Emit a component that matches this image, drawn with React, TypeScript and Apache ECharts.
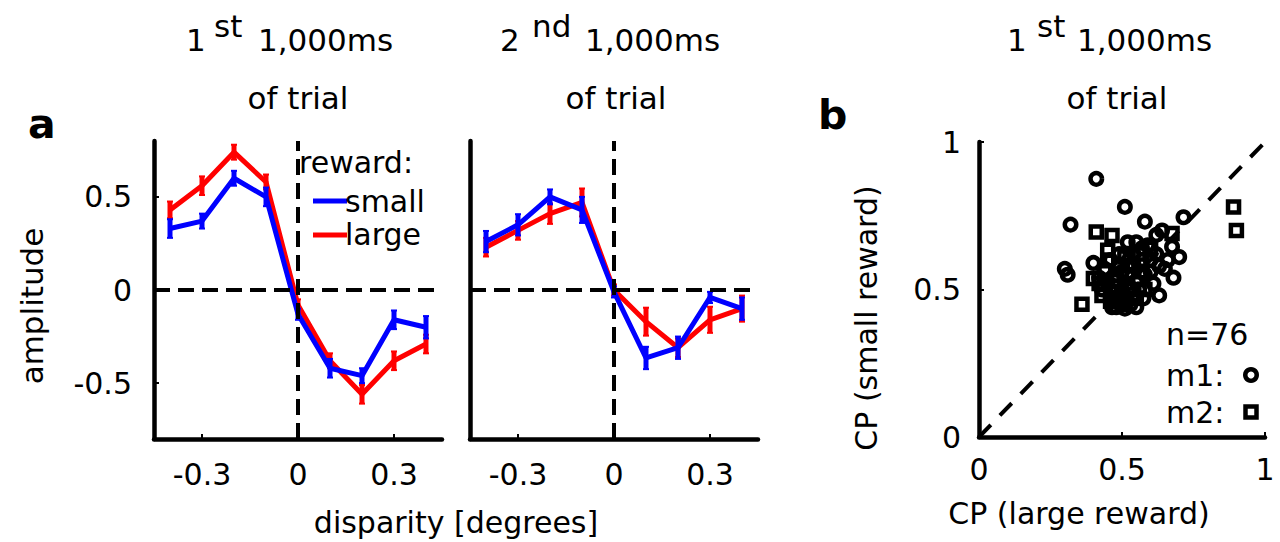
import React, { useEffect, useRef } from "react";
import * as echarts from "echarts";

// ---------------- data ----------------
const disparity = [-0.4, -0.3, -0.2, -0.1, 0, 0.1, 0.2, 0.3, 0.4];

// panel a, 1st 1,000 ms
const first_small = [0.33, 0.37, 0.6, 0.5, -0.13, -0.42, -0.46, -0.16, -0.2];
const first_small_err = [0.05, 0.04, 0.04, 0.05, 0.03, 0.05, 0.04, 0.05, 0.06];
const first_large = [0.43, 0.56, 0.74, 0.58, -0.08, -0.38, -0.56, -0.38, -0.29];
const first_large_err = [0.045, 0.05, 0.04, 0.04, 0.03, 0.04, 0.05, 0.05, 0.05];

// panel a, 2nd 1,000 ms
const second_small = [0.26, 0.35, 0.5, 0.43, -0.01, -0.365, -0.31, -0.04, -0.1];
const second_small_err = [0.057, 0.057, 0.04, 0.07, 0.03, 0.06, 0.06, 0.03, 0.06];
const second_large = [0.23, 0.32, 0.41, 0.47, 0.0, -0.17, -0.31, -0.16, -0.1];
const second_large_err = [0.05, 0.05, 0.055, 0.075, 0.03, 0.075, 0.05, 0.07, 0.07];

// panel b: CP (large reward), CP (small reward)
const m1_cp: number[][] = [
  [0.41, 0.875], [0.51, 0.78], [0.32, 0.72], [0.715, 0.745], [0.58, 0.73],
  [0.30, 0.57], [0.31, 0.55], [0.40, 0.59], [0.70, 0.61], [0.68, 0.54],
  [0.63, 0.48], [0.675, 0.645], [0.465, 0.44], [0.51, 0.435], [0.575, 0.47],
  [0.52, 0.66], [0.55, 0.66], [0.62, 0.685], [0.64, 0.70], [0.65, 0.57],
  [0.45, 0.52], [0.48, 0.55], [0.50, 0.50], [0.52, 0.58], [0.55, 0.53],
  [0.57, 0.60], [0.60, 0.56], [0.62, 0.62], [0.47, 0.47], [0.53, 0.45],
  [0.56, 0.50], [0.49, 0.62], [0.44, 0.57], [0.59, 0.65], [0.61, 0.52],
  [0.43, 0.50], [0.54, 0.62], [0.58, 0.55], [0.50, 0.56], [0.46, 0.60],
  [0.63, 0.58], [0.48, 0.44], [0.55, 0.44], [0.60, 0.60], [0.66, 0.60],
  [0.52, 0.52], [0.57, 0.64], [0.42, 0.54],
];
const m2_cp: number[][] = [
  [0.89, 0.78], [0.90, 0.70], [0.41, 0.695], [0.465, 0.683], [0.675, 0.69],
  [0.45, 0.633], [0.45, 0.60], [0.40, 0.537], [0.36, 0.45], [0.43, 0.48],
  [0.46, 0.49], [0.50, 0.48], [0.55, 0.47], [0.42, 0.52], [0.47, 0.53],
  [0.52, 0.55], [0.49, 0.58], [0.58, 0.50], [0.54, 0.58], [0.50, 0.45],
  [0.44, 0.56], [0.53, 0.50], [0.57, 0.56], [0.60, 0.64], [0.48, 0.51],
  [0.56, 0.62], [0.51, 0.61], [0.46, 0.46],
];

// tick labels
const dispTickValues = [-0.3, 0, 0.3];
const dispTickLabels = ["-0.3", "0", "0.3"];
const ampTickValues = [-0.5, 0, 0.5];
const ampTickLabels = ["-0.5", "0", "0.5"];
const cpTickValues = [0, 0.5, 1];
const cpTickLabels = ["0", "0.5", "1"];

// ---------------- style ----------------
const FONT = "DejaVu Sans";
const BLUE = "#0000ff";
const RED = "#ff0000";
const BLACK = "#000000";

const fmt = (vals: number[], labels: string[]) => (v: number) => {
  const i = vals.findIndex((t) => Math.abs(t - v) < 1e-9);
  return i >= 0 ? labels[i] : "";
};

const labelStyle = { fontFamily: FONT, fontSize: 30, color: BLACK };

function makeXAxis(gridIndex: number, min: number, max: number, vals: number[], labels: string[], margin: number) {
  return {
    type: "value",
    gridIndex,
    min,
    max,
    axisLine: { show: true, onZero: false, lineStyle: { color: BLACK, width: 4.5 } },
    axisTick: { show: true, inside: true, length: 5, customValues: vals, lineStyle: { color: BLACK, width: 2 } },
    axisLabel: { show: true, customValues: vals, formatter: fmt(vals, labels), margin, ...labelStyle },
    splitLine: { show: false },
  };
}

function makeYAxis(gridIndex: number, min: number, max: number, vals: number[], labels: string[], showLabels: boolean, margin: number) {
  return {
    type: "value",
    gridIndex,
    min,
    max,
    axisLine: { show: true, onZero: false, lineStyle: { color: BLACK, width: 4.5 } },
    axisTick: { show: showLabels, inside: true, length: 5, customValues: vals, lineStyle: { color: BLACK, width: 2 } },
    axisLabel: { show: showLabels, customValues: vals, formatter: fmt(vals, labels), margin, ...labelStyle },
    splitLine: { show: false },
  };
}

function lineSeries(idx: number, xs: number[], ys: number[], color: string, z: number) {
  return {
    type: "line",
    xAxisIndex: idx,
    yAxisIndex: idx,
    data: xs.map((x, i) => [x, ys[i]]),
    symbol: "none",
    lineStyle: { color, width: 5 },
    z,
  };
}

function errSeries(idx: number, xs: number[], ys: number[], es: number[], color: string, z: number) {
  return {
    type: "custom",
    xAxisIndex: idx,
    yAxisIndex: idx,
    data: xs.map((x, i) => [x, ys[i] - es[i], ys[i] + es[i]]),
    encode: { x: 0, y: [1, 2] },
    z,
    renderItem: (_p: any, api: any) => {
      const x = api.value(0);
      const a = api.coord([x, api.value(1)]);
      const b = api.coord([x, api.value(2)]);
      return {
        type: "group",
        children: [
          { type: "line", shape: { x1: a[0], y1: a[1], x2: b[0], y2: b[1] }, style: { stroke: color, lineWidth: 5 } },
          { type: "line", shape: { x1: a[0] - 3, y1: a[1], x2: a[0] + 3, y2: a[1] }, style: { stroke: color, lineWidth: 2 } },
          { type: "line", shape: { x1: b[0] - 3, y1: b[1], x2: b[0] + 3, y2: b[1] }, style: { stroke: color, lineWidth: 2 } },
        ],
      };
    },
  };
}

function dashed(idx: number, pts: number[][], dash: number[], z: number) {
  return {
    type: "line",
    xAxisIndex: idx,
    yAxisIndex: idx,
    data: pts,
    symbol: "none",
    lineStyle: { color: BLACK, width: 4, type: dash },
    z,
  };
}

function txt(text: string, x: number, y: number, size: number, align: string, opts: any = {}) {
  return {
    type: "text",
    x,
    y,
    rotation: opts.rotation || 0,
    style: {
      text,
      x: 0,
      y: 0,
      fill: BLACK,
      font: `${opts.bold ? "bold " : ""}${size}px "${FONT}"`,
      fontFamily: FONT,
      fontSize: size,
      fontWeight: opts.bold ? "bold" : "normal",
      align,
      textAlign: align,
      verticalAlign: "middle",
      textVerticalAlign: "middle",
    },
  };
}

function title(lead: string, sup: string, leadX: number, supX: number, mainX: number, center: number) {
  return [
    txt(lead, leadX, 40, 31, "left"),
    txt(sup, supX, 26, 31, "left"),
    txt("1,000ms", mainX, 40, 31, "left"),
    txt("of trial", center, 97.5, 31, "center"),
  ];
}

const markerStyle = { color: "rgba(0,0,0,0)", borderColor: BLACK, borderWidth: 4.5, opacity: 1 };

export default function App() {
  const ref = useRef<HTMLDivElement>(null);

  useEffect(() => {
    if (!ref.current) return;
    const chart = echarts.init(ref.current, null, { renderer: "svg" });

    const option: any = {
      animation: false,
      backgroundColor: "#ffffff",
      grid: [
        { left: 154, top: 141, width: 288, height: 298 },
        { left: 470, top: 141, width: 288, height: 298 },
        { left: 979, top: 142, width: 286, height: 295 },
      ],
      xAxis: [
        makeXAxis(0, -0.45, 0.45, dispTickValues, dispTickLabels, 20),
        makeXAxis(1, -0.45, 0.45, dispTickValues, dispTickLabels, 20),
        makeXAxis(2, 0, 1, cpTickValues, cpTickLabels, 17),
      ],
      yAxis: [
        makeYAxis(0, -0.8, 0.8, ampTickValues, ampTickLabels, true, 22),
        makeYAxis(1, -0.8, 0.8, ampTickValues, ampTickLabels, false, 22),
        makeYAxis(2, 0, 1, cpTickValues, cpTickLabels, true, 18),
      ],
      series: [
        // panel a left
        errSeries(0, disparity, first_large, first_large_err, RED, 2),
        lineSeries(0, disparity, first_large, RED, 2),
        errSeries(0, disparity, first_small, first_small_err, BLUE, 3),
        lineSeries(0, disparity, first_small, BLUE, 3),
        dashed(0, [[-0.45, 0], [0.45, 0]], [16, 8], 4),
        dashed(0, [[0, -0.8], [0, 0.8]], [16, 8], 4),
        // panel a right
        errSeries(1, disparity, second_large, second_large_err, RED, 2),
        lineSeries(1, disparity, second_large, RED, 2),
        errSeries(1, disparity, second_small, second_small_err, BLUE, 3),
        lineSeries(1, disparity, second_small, BLUE, 3),
        dashed(1, [[-0.45, 0], [0.45, 0]], [16, 8], 4),
        dashed(1, [[0, -0.8], [0, 0.8]], [16, 8], 4),
        // panel b
        dashed(2, [[0, 0], [1, 1]], [17, 13], 2),
        {
          type: "scatter",
          xAxisIndex: 2,
          yAxisIndex: 2,
          data: m1_cp,
          symbol: "circle",
          symbolSize: 11.5,
          itemStyle: markerStyle,
          emphasis: { disabled: true },
          z: 3,
        },
        {
          type: "scatter",
          xAxisIndex: 2,
          yAxisIndex: 2,
          data: m2_cp,
          symbol: "rect",
          symbolSize: 11,
          itemStyle: markerStyle,
          emphasis: { disabled: true },
          z: 3,
        },
      ],
      graphic: [
        txt("a", 28, 124, 41, "left", { bold: true }),
        txt("b", 818, 115, 41, "left", { bold: true }),
        ...title("1", "st", 186, 214, 258, 298),
        ...title("2", "nd", 500, 532, 585, 616),
        ...title("1", "st", 1007, 1037, 1077, 1117),
        txt("amplitude", 32, 306, 31, "center", { rotation: Math.PI / 2 }),
        txt("disparity [degrees]", 456, 522, 30, "center"),
        txt("CP (small reward)", 866, 318, 30, "center", { rotation: Math.PI / 2 }),
        txt("CP (large reward)", 1079, 513, 30, "center"),
        // legend panel a
        txt("reward:", 299, 162, 30, "left"),
        { type: "line", shape: { x1: 313, y1: 201, x2: 347, y2: 201 }, style: { stroke: BLUE, lineWidth: 5 } },
        txt("small", 345, 201, 30, "left"),
        { type: "line", shape: { x1: 313, y1: 235, x2: 347, y2: 235 }, style: { stroke: RED, lineWidth: 5 } },
        txt("large", 345, 234, 30, "left"),
        // legend panel b
        txt("n=76", 1166, 334, 30, "left"),
        txt("m1:", 1166, 375, 30, "left"),
        txt("m2:", 1166, 412, 30, "left"),
        { type: "circle", shape: { cx: 1251, cy: 375, r: 5.75 }, style: { fill: "none", stroke: BLACK, lineWidth: 4.5 } },
        { type: "rect", shape: { x: 1245.5, y: 406.5, width: 11, height: 11 }, style: { fill: "none", stroke: BLACK, lineWidth: 4.5 } },
      ],
    };

    chart.setOption(option);
    return () => chart.dispose();
  }, []);

  return (
    <div
      ref={ref}
      style={{ position: "fixed", left: 0, top: 0, width: 1280, height: 542, background: "#fff" }}
    />
  );
}
